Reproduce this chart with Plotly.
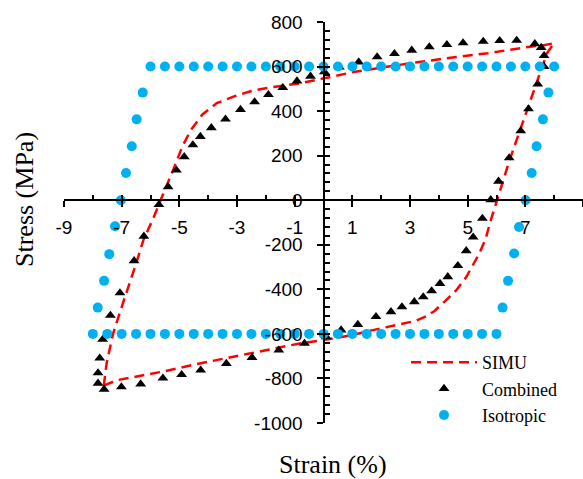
import plotly.graph_objects as go

# ---------------- data ----------------
simu_x = [-7.62, -7.17, -6.43, -5.6, -4.3, -3.14, -1.98, -0.83, 0.0, 1.0, 1.71, 2.51, 3.21, 3.55,
          3.85, 4.2, 4.6, 4.95, 5.2, 5.4, 5.62, 5.8, 6.02, 6.44, 6.9, 7.3, 7.75, 8.0, 7.6, 7.1,
          6.3, 5.7, 4.6, 2.9, 1.1, 0.0, -0.8, -2.0, -2.5, -3.1, -3.7, -4.2, -4.6, -4.9, -5.2,
          -5.65, -5.9, -6.25, -6.5, -6.9, -7.3, -7.52, -7.6, -7.62]
simu_y = [-832, -808, -790, -770, -733, -703, -670, -643, -628, -605, -583, -561, -541, -522,
          -497, -455, -405, -345, -290, -240, -175, -90, 0, 175, 345, 490, 660, 705, 695, 688,
          673, 660, 643, 613, 577, 548, 525, 503, 490, 466, 436, 385, 315, 240, 140,
          0, -80, -180, -285, -440, -600, -730, -810, -832]

comb_x = [-5.71, -5.39, -5.10, -4.83, -4.53, -4.27, -3.89, -3.40, -2.88, -2.39, -1.91, -1.41,
          -0.92, -0.45, 0.03, 0.55, 1.22, 1.86, 2.46, 3.06, 3.67, 4.28, 4.84, 5.54, 6.11, 6.70,
          7.33, 7.55, 7.65, 7.65, 7.43, 7.11, 6.84, 6.44, 6.07, 5.80, 5.51, 5.19, 4.95, 4.66,
          4.31, 4.04, 3.75, 3.46, 3.15, 2.72, 2.34, 1.82, 1.19, 0.61, 0.09, -0.66, -1.55, -2.48,
          -3.37, -4.26, -4.92, -5.57, -6.34, -7.01, -7.61, -7.82, -7.82, -7.76, -7.66, -7.39,
          -7.06, -6.57, -6.23]
comb_y = [-20, 60, 135, 195, 248, 286, 325, 364, 407, 441, 474, 505,
          535, 556, 576, 598, 620, 643, 658, 673, 688, 698, 706, 713, 716, 717,
          702, 685, 649, 600, 521, 410, 311, 190, 85, 2, -82, -166, -227, -294,
          -344, -374, -407, -434, -456, -479, -501, -523, -558, -583, -613, -643, -673, -706,
          -733, -763, -783, -799, -825, -838, -849, -822, -775, -709, -625, -517,
          -416, -272, -162]

iso_x = [-6.0, -5.5, -5.0, -4.5, -4.0, -3.5, -3.0, -2.5, -2.0, -1.5, -1.0, -0.5, 0.0, 0.5, 1.0,
         1.5, 2.0, 2.5, 3.0, 3.5, 4.0, 4.5, 5.0, 5.5, 6.0, 6.5, 7.0, 7.5, 8.0,
         7.80, 7.61, 7.39, 7.22, 7.01, 6.78, 6.61, 6.40, 6.21,
         6.0, 5.5, 5.0, 4.5, 4.0, 3.5, 3.0, 2.5, 2.0, 1.5, 1.0, 0.5, 0.0, -0.5, -1.0,
         -1.5, -2.0, -2.5, -3.0, -3.5, -4.0, -4.5, -5.0, -5.5, -6.0, -6.5, -7.0, -7.5, -8.0,
         -7.83, -7.61, -7.43, -7.23, -7.03, -6.85, -6.65, -6.48, -6.27]
iso_y = [600, 600, 600, 600, 600, 600, 600, 600, 600, 600, 600, 600, 600, 600, 600,
         600, 600, 600, 600, 600, 600, 600, 600, 600, 600, 600, 600, 600, 600,
         483, 363, 242, 122, 0, -120, -239, -362, -482,
         -600, -600, -600, -600, -600, -600, -600, -600, -600, -600, -600, -600, -600, -600, -600,
         -600, -600, -600, -600, -600, -600, -600, -600, -600, -600, -600, -600, -600, -600,
         -482, -362, -242, -117, 0, 122, 242, 363, 483]

x_tickvals = [-9, -7, -5, -3, -1, 1, 3, 5, 7, 9]
x_ticktext = ["-9", "-7", "-5", "-3", "-1", "1", "3", "5", "7", "9"]
y_tickvals = [800, 600, 400, 200, 0, -200, -400, -600, -800, -1000]
y_ticktext = ["800", "600", "400", "200", "0", "-200", "-400", "-600", "-800", "-1000"]

x_range = [-9, 9]
y_range = [-1000, 800]

# ---------------- figure ----------------
fig = go.Figure()
fig.add_trace(go.Scatter(x=simu_x, y=simu_y, mode="lines", name="SIMU",
                         line=dict(color="#FF0000", width=2.5, dash="10px,6px")))
fig.add_trace(go.Scatter(x=comb_x, y=comb_y, mode="markers", name="Combined",
                         marker=dict(symbol="triangle-up", size=9.5, color="#000000")))
fig.add_trace(go.Scatter(x=iso_x, y=iso_y, mode="markers", name="Isotropic",
                         marker=dict(symbol="circle", size=10, color="#00B0F0")))
# invisible trace to attach the overlay axes
fig.add_trace(go.Scatter(x=[None], y=[None], xaxis="x2", yaxis="y2", showlegend=False,
                         hoverinfo="skip"))

y0frac = (0 - y_range[0]) / (y_range[1] - y_range[0])
x0frac = (0 - x_range[0]) / (x_range[1] - x_range[0])

tickfont = dict(family="Liberation Sans", size=19, color="#000000")

fig.update_layout(
    width=583, height=479,
    margin=dict(l=64, r=0, t=22, b=56),
    paper_bgcolor="white", plot_bgcolor="white",
    showlegend=True,
    legend=dict(x=0.659, y=0.197, xanchor="left", yanchor="top",
                font=dict(family="Liberation Serif", size=18, color="#000000"),
                itemwidth=66, bgcolor="rgba(0,0,0,0)", borderwidth=0,
                tracegroupgap=0),
    xaxis=dict(range=x_range, anchor="free", position=y0frac, showline=True,
               linecolor="#000000", linewidth=2, ticks="outside", ticklen=6, tickwidth=1.5,
               tickcolor="#000000", tickmode="array", tickvals=x_tickvals, ticktext=x_ticktext,
               showgrid=False, zeroline=False, tickfont=tickfont, ticklabelstandoff=4),
    xaxis2=dict(range=x_range, overlaying="x", anchor="free", position=y0frac,
                showline=False, ticks="inside", ticklen=5, tickwidth=1.5, tickcolor="#000000",
                tickmode="linear", tick0=-9, dtick=1, showticklabels=False, showgrid=False,
                zeroline=False),
    yaxis=dict(range=y_range, anchor="free", position=x0frac, showline=True,
               linecolor="#000000", linewidth=2, ticks="outside", ticklen=6, tickwidth=1.5,
               tickcolor="#000000", tickmode="array", tickvals=y_tickvals, ticktext=y_ticktext,
               showgrid=False, zeroline=False, tickfont=tickfont, ticklabelstandoff=10),
    yaxis2=dict(range=y_range, overlaying="y", anchor="free", position=x0frac,
                showline=False, ticks="inside", ticklen=5, tickwidth=1.5, tickcolor="#000000",
                tickmode="linear", tick0=-1000, dtick=40, showticklabels=False, showgrid=False,
                zeroline=False),
    annotations=[
        dict(text="Stress (MPa)", xref="paper", yref="paper", x=(24 - 64) / 519,
             y=(423 - 200) / 401, textangle=-90, showarrow=False, xanchor="center",
             yanchor="middle", font=dict(family="Liberation Serif", size=26, color="#000000")),
        dict(text="Strain (%)", xref="paper", yref="paper", x=(332.5 - 64) / 519,
             y=(423 - 464) / 401, showarrow=False, xanchor="center", yanchor="middle",
             font=dict(family="Liberation Serif", size=26, color="#000000")),
    ],
)

fig.write_html("out.html")
